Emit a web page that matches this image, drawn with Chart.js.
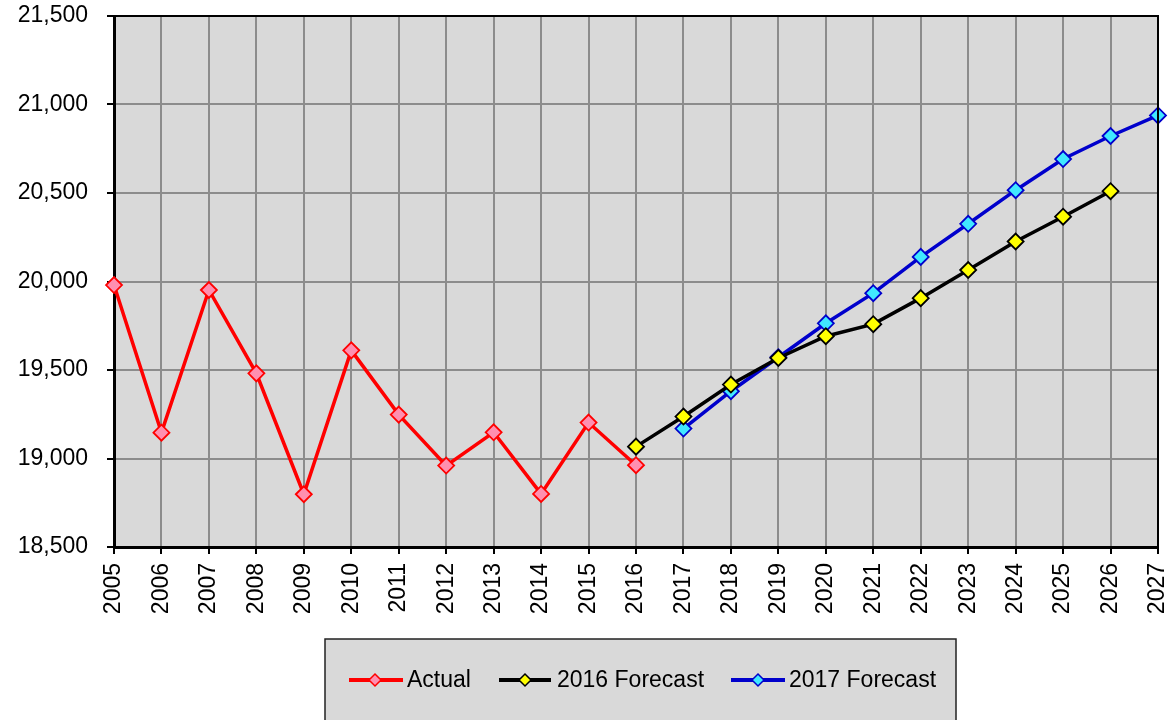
<!DOCTYPE html>
<html>
<head>
<meta charset="utf-8">
<script src="https://cdn.jsdelivr.net/npm/chart.js@4/dist/chart.umd.min.js"></script>
<style>
  html, body { margin: 0; padding: 0; background: #ffffff; }
  #wrap { width: 1175px; height: 720px; position: relative; }
</style>
</head>
<body>
<div id="wrap"><canvas id="chart" width="1175" height="720"></canvas></div>
<script>
const years = ['2005','2006','2007','2008','2009','2010','2011','2012','2013','2014','2015','2016',
               '2017','2018','2019','2020','2021','2022','2023','2024','2025','2026','2027'];

const actual = [19980, 19146, 19952, 19481, 18798, 19611, 19248, 18960, 19148, 18800, 19203, 18962,
                null, null, null, null, null, null, null, null, null, null, null];

const forecast2016 = [null, null, null, null, null, null, null, null, null, null, null, 19067,
                      19237, 19418, 19568, 19691, 19759, 19906, 20065, 20226, 20366, 20510, null];

const forecast2017 = [null, null, null, null, null, null, null, null, null, null, null, null,
                      19169, 19380, 19572, 19764, 19934, 20139, 20326, 20516, 20692, 20822, 20938];

const yTicks = [18500, 19000, 19500, 20000, 20500, 21000, 21500];

const FONT = "'Liberation Sans', Arial, sans-serif";

function series(label, data, line, fill) {
    return {
        label: label,
        data: data,
        borderColor: line,
        backgroundColor: fill,
        borderWidth: 3.5,
        tension: 0,
        spanGaps: false,
        pointStyle: 'rectRot',
        pointRadius: 8,
        pointHoverRadius: 8,
        pointBackgroundColor: fill,
        pointBorderColor: line,
        pointBorderWidth: 1.8
    };
}

// drop the extra room Chart.js keeps for edge labels, so layout.padding sets the plot box
function noEdgePadding(scale) {
    scale.paddingTop = 0;
    scale.paddingBottom = 0;
    scale.paddingLeft = 0;
    scale.paddingRight = 0;
}

// grey plot background + black frame
const plotFrame = {
    id: 'plotFrame',
    beforeDraw(chart) {
        const a = chart.chartArea, ctx = chart.ctx;
        ctx.save();
        ctx.fillStyle = '#d9d9d9';
        ctx.fillRect(a.left, a.top, a.right - a.left, a.bottom - a.top);
        ctx.restore();
    },
    afterDatasetsDraw(chart) {
        const a = chart.chartArea, ctx = chart.ctx;
        ctx.save();
        ctx.strokeStyle = '#000000';
        ctx.lineWidth = 2;
        ctx.beginPath();
        ctx.moveTo(a.left, a.top);
        ctx.lineTo(a.right, a.top);
        ctx.lineTo(a.right, a.bottom);
        ctx.stroke();
        ctx.restore();
    }
};

// boxed legend below the axis, like the spreadsheet one
const boxLegend = {
    id: 'boxLegend',
    afterDraw(chart) {
        const ctx = chart.ctx;
        ctx.save();
        ctx.fillStyle = '#d9d9d9';
        ctx.fillRect(325, 639, 631, 100);
        ctx.strokeStyle = '#222222';
        ctx.lineWidth = 1.5;
        ctx.strokeRect(325, 639, 631, 100);

        const items = [
            { x0: 349, x1: 403, cx: 375, tx: 407 },
            { x0: 499, x1: 551, cx: 525, tx: 557 },
            { x0: 731, x1: 785, cx: 758, tx: 789 }
        ];
        const y = 680;
        ctx.font = '23px ' + FONT;
        ctx.textBaseline = 'middle';
        chart.data.datasets.forEach((ds, i) => {
            const it = items[i];
            ctx.strokeStyle = ds.borderColor;
            ctx.lineWidth = 4;
            ctx.beginPath();
            ctx.moveTo(it.x0, y);
            ctx.lineTo(it.x1, y);
            ctx.stroke();
            const r = 6;
            ctx.beginPath();
            ctx.moveTo(it.cx, y - r);
            ctx.lineTo(it.cx + r, y);
            ctx.lineTo(it.cx, y + r);
            ctx.lineTo(it.cx - r, y);
            ctx.closePath();
            ctx.fillStyle = ds.pointBackgroundColor;
            ctx.fill();
            ctx.lineWidth = 1.5;
            ctx.stroke();
            ctx.fillStyle = '#000000';
            ctx.fillText(ds.label, it.tx, y + 1);
        });
        ctx.restore();
    }
};

new Chart(document.getElementById('chart'), {
    type: 'line',
    data: {
        labels: years,
        datasets: [
            series('Actual', actual, '#ff0000', '#ff8fb0'),
            series('2016 Forecast', forecast2016, '#000000', '#ffff00'),
            series('2017 Forecast', forecast2017, '#0000cc', '#40e8ff')
        ]
    },
    options: {
        responsive: false,
        animation: false,
        layout: { padding: { top: 16, right: 17, left: 0, bottom: 0 } },
        scales: {
            x: {
                type: 'category',
                offset: false,
                grid: { color: '#8c8c8c', lineWidth: 2, tickColor: '#000000', tickLength: 7 },
                border: { color: '#000000', width: 3 },
                ticks: {
                    color: '#000000',
                    font: { family: FONT, size: 23 },
                    minRotation: 90,
                    maxRotation: 90,
                    autoSkip: false,
                    padding: 9
                },
                afterFit(scale) { scale.height = 173; noEdgePadding(scale); }
            },
            y: {
                min: 18500,
                max: 21500,
                afterBuildTicks(scale) { scale.ticks = yTicks.map(v => ({ value: v })); },
                grid: { color: '#8c8c8c', lineWidth: 2, tickColor: '#000000', tickLength: 7 },
                border: { color: '#000000', width: 3 },
                ticks: {
                    color: '#000000',
                    font: { family: FONT, size: 23 },
                    padding: 19,
                    callback: v => v.toLocaleString('en-US')
                },
                afterFit(scale) { scale.width = 114; noEdgePadding(scale); }
            }
        },
        plugins: {
            legend: { display: false },
            tooltip: { enabled: false }
        }
    },
    plugins: [plotFrame, boxLegend]
});
</script>
</body>
</html>
